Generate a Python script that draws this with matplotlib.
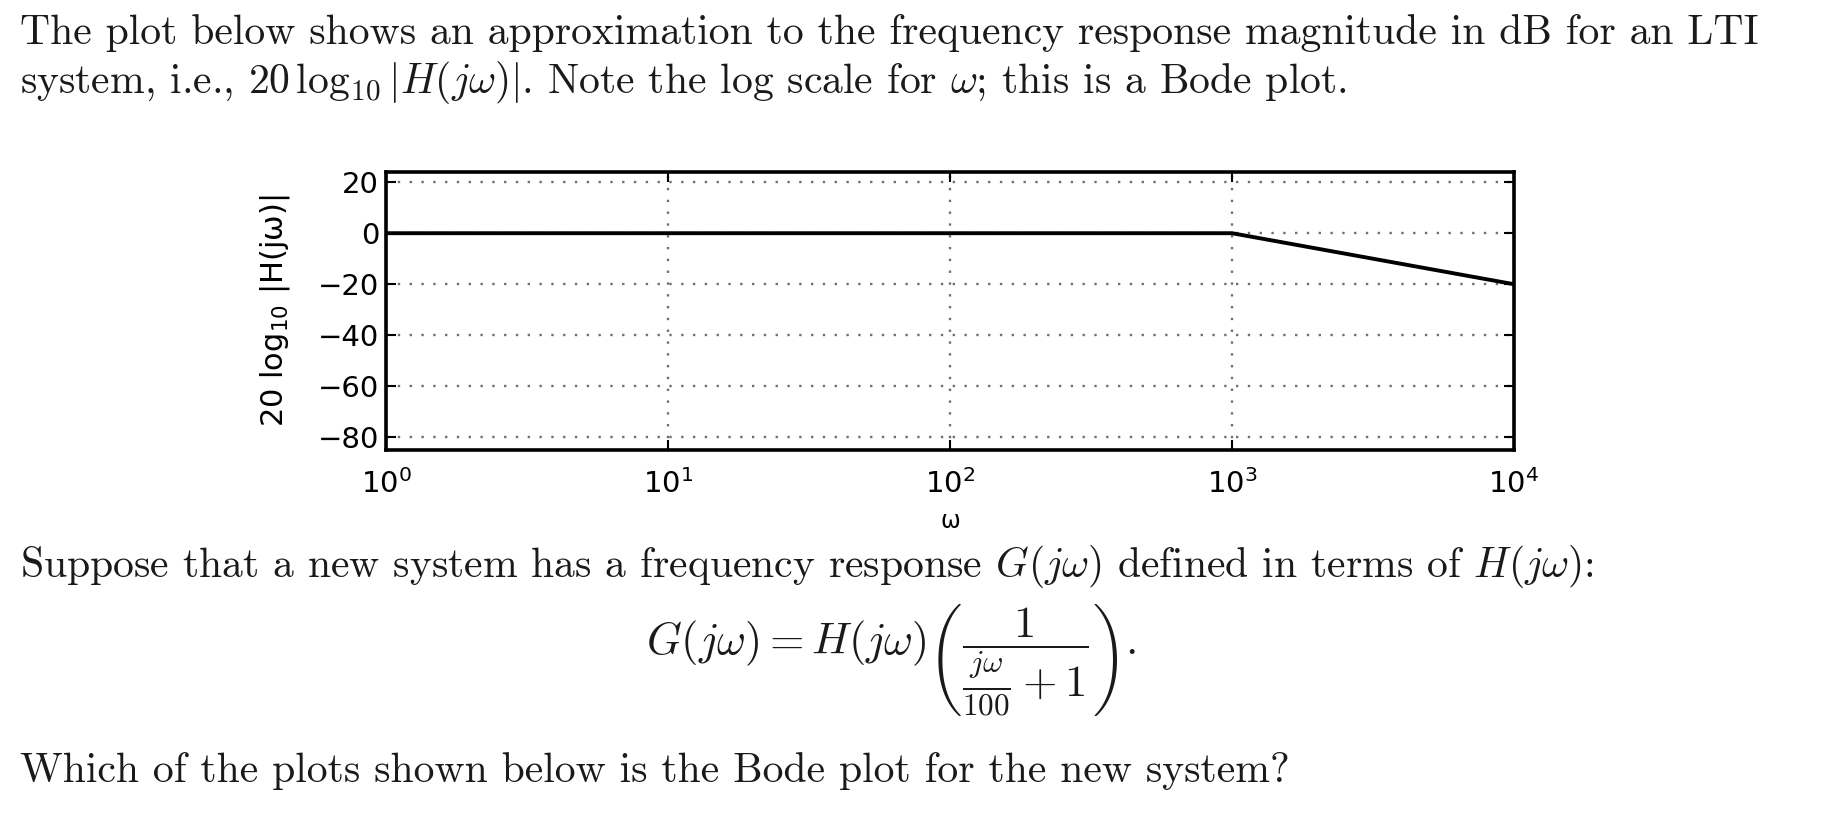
import matplotlib
matplotlib.use('Agg')
import matplotlib.pyplot as plt
from matplotlib.ticker import NullLocator

# ---- data ----
omega = [1, 1e3, 1e4]
mag_db = [0, 0, -20]
xticks = [1, 10, 100, 1000, 10000]
xtick_exps = ['0', '1', '2', '3', '4']
yticks = [-80, -60, -40, -20, 0, 20]
ytick_labels = ['−80', '−60', '−40', '−20', '0', '20']

plt.rcParams['mathtext.fontset'] = 'cm'
plt.rcParams['mathtext.rm'] = 'DejaVu Sans'
plt.rcParams['mathtext.it'] = 'DejaVu Sans:italic'
plt.rcParams['mathtext.bf'] = 'DejaVu Sans:bold'

W, H = 1824, 821
fig = plt.figure(figsize=(W / 100, H / 100), dpi=100)
fig.patch.set_facecolor('white')


def fx(x):
    return x / W


def fy(y):
    return 1 - y / H


ax = fig.add_axes([fx(386), fy(450), fx(1514) - fx(386), fy(172) - fy(450)])
ax.semilogx(omega, mag_db, color='black', lw=2.8, solid_capstyle='butt')
ax.set_xlim(1, 1e4)
ax.set_ylim(-85, 24)
ax.set_xticks(xticks)
ax.xaxis.set_minor_locator(NullLocator())
ax.set_xticklabels(['$10^{%s}$' % e for e in xtick_exps], math_fontfamily='custom',
                   fontsize=21, family='DejaVu Sans')
ax.set_yticks(yticks)
ax.set_yticklabels(ytick_labels, fontsize=21, family='DejaVu Sans')
ax.tick_params(axis='both', which='major', direction='in', length=7, width=1.5,
               top=True, right=True, color='black')
ax.tick_params(axis='x', pad=14)
ax.tick_params(axis='y', pad=5)
ax.grid(True, which='major', color='#707070', linestyle=(0, (1, 4)), linewidth=1.7)
for s in ax.spines.values():
    s.set_linewidth(2.6)
    s.set_color('black')

ax.set_ylabel('20 log$_{10}$ |H(jω)|', fontsize=22, family='DejaVu Sans',
              math_fontfamily='custom', va='center')
ax.yaxis.set_label_coords((275 - 386) / 1128, 0.5)
ax.set_xlabel('ω', fontsize=17, family='DejaVu Sans', va='center')
ax.xaxis.set_label_coords(0.5, (450 - 521) / 278)

# ---- surrounding text ----
fs = 30
body = dict(fontsize=fs, family='cmr10', color='#1a1a1a', va='baseline', ha='left')
fig.text(fx(20), fy(44),
         'The plot below shows an approximation to the frequency response magnitude in dB for an LTI',
         **body)
fig.text(fx(20), fy(93),
         r'system, i.e., $20\,\log_{10}|H(j\omega)|$. Note the log scale for $\omega$; this is a Bode plot.',
         **body)
fig.text(fx(20), fy(577),
         r'Suppose that a new system has a frequency response $G(j\omega)$ defined in terms of $H(j\omega)$:',
         **body)
fig.text(fx(891), fy(660),
         r'$G(j\omega) = H(j\omega)\left(\dfrac{1}{\frac{j\omega}{100}+1}\right).$',
         fontsize=32, color='#1a1a1a', ha='center', va='center')
fig.text(fx(20), fy(782),
         'Which of the plots shown below is the Bode plot for the new system?',
         **body)

fig.savefig('out.png', dpi=100, facecolor='white')
